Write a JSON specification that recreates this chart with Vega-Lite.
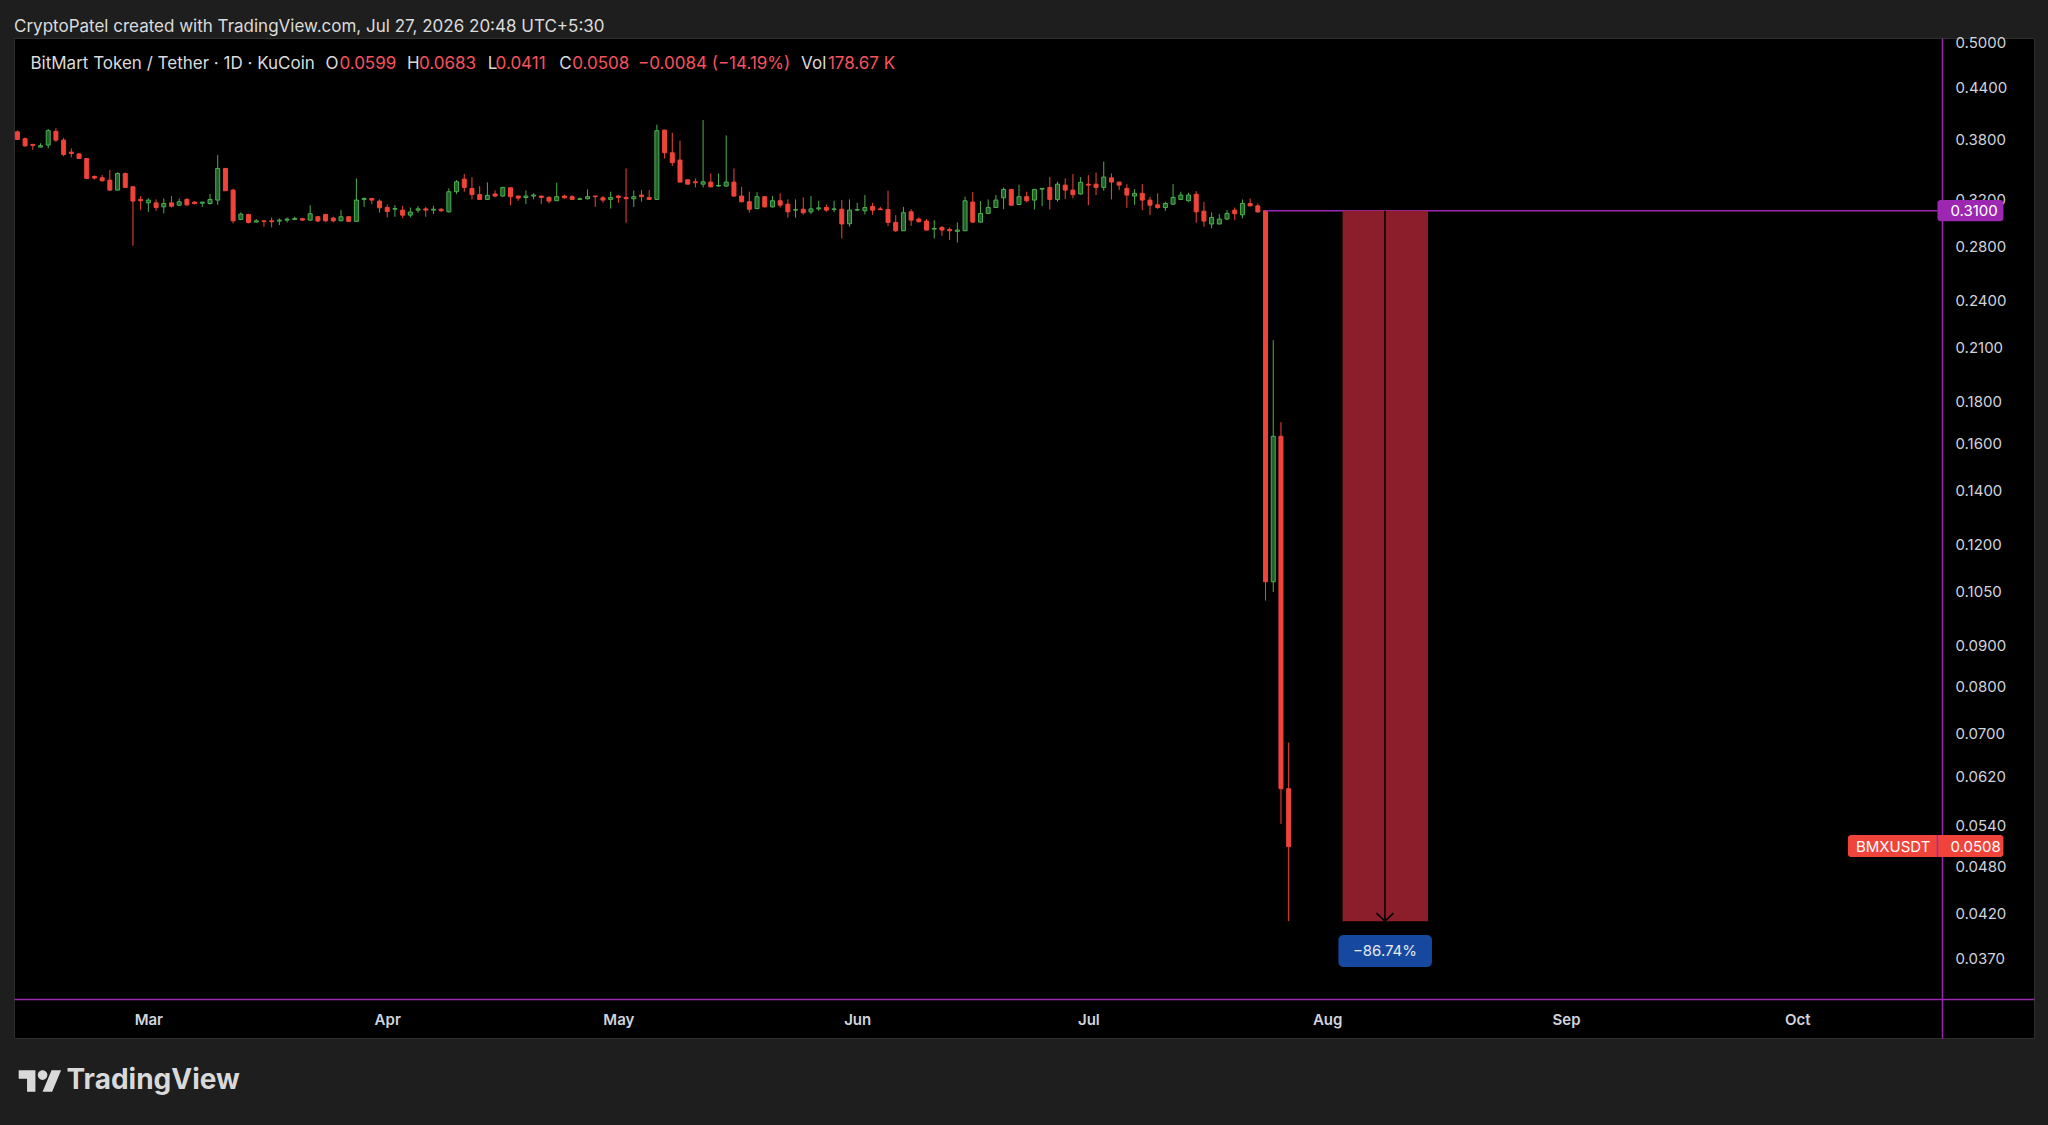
{
  "$schema": "https://vega.github.io/schema/vega-lite/v6.json",
  "width": 2020,
  "height": 1000,
  "autosize": {"type": "none"},
  "padding": {"left": 14, "top": 38, "right": 14, "bottom": 87},
  "background": "#1e1e1e",
  "view": {"fill": "#000000", "stroke": "#2e2e2e", "strokeWidth": 1},
  "title": {
    "text": "CryptoPatel created with TradingView.com, Jul 27, 2026 20:48 UTC+5:30",
    "anchor": "start",
    "frame": "group",
    "font": "Inter",
    "fontSize": 17,
    "fontWeight": "normal",
    "color": "#dbdbdb",
    "baseline": "bottom",
    "offset": 5,
    "dy": 22
  },
  "config": {
    "axis": {
      "grid": false,
      "ticks": false,
      "tickSize": 0,
      "domainColor": "#9c27b0",
      "domainWidth": 1.5,
      "labelColor": "#d1d4dc",
      "labelFont": "Inter",
      "labelFontSize": 15,
      "zindex": 0
    }
  },
  "datasets": {
    "candles": [
      {"d": "2026-02-12", "o": 0.3880, "h": 0.3895, "l": 0.3790, "c": 0.3796},
      {"d": "2026-02-13", "o": 0.3804, "h": 0.3818, "l": 0.3720, "c": 0.3727},
      {"d": "2026-02-14", "o": 0.3743, "h": 0.3748, "l": 0.3686, "c": 0.3733},
      {"d": "2026-02-15", "o": 0.3715, "h": 0.3755, "l": 0.3711, "c": 0.3729},
      {"d": "2026-02-16", "o": 0.3736, "h": 0.3912, "l": 0.3701, "c": 0.3892},
      {"d": "2026-02-17", "o": 0.3885, "h": 0.3919, "l": 0.3771, "c": 0.3789},
      {"d": "2026-02-18", "o": 0.3789, "h": 0.3815, "l": 0.3620, "c": 0.3637},
      {"d": "2026-02-19", "o": 0.3662, "h": 0.3701, "l": 0.3609, "c": 0.3647},
      {"d": "2026-02-20", "o": 0.3643, "h": 0.3654, "l": 0.3592, "c": 0.3596},
      {"d": "2026-02-21", "o": 0.3596, "h": 0.3598, "l": 0.3391, "c": 0.3398},
      {"d": "2026-02-22", "o": 0.3417, "h": 0.3427, "l": 0.3388, "c": 0.3401},
      {"d": "2026-02-23", "o": 0.3404, "h": 0.3430, "l": 0.3369, "c": 0.3375},
      {"d": "2026-02-24", "o": 0.3382, "h": 0.3480, "l": 0.3281, "c": 0.3287},
      {"d": "2026-02-25", "o": 0.3287, "h": 0.3456, "l": 0.3284, "c": 0.3446},
      {"d": "2026-02-26", "o": 0.3446, "h": 0.3456, "l": 0.3306, "c": 0.3312},
      {"d": "2026-02-27", "o": 0.3318, "h": 0.3325, "l": 0.2806, "c": 0.3186},
      {"d": "2026-02-28", "o": 0.3201, "h": 0.3232, "l": 0.3105, "c": 0.3189},
      {"d": "2026-03-01", "o": 0.3170, "h": 0.3210, "l": 0.3090, "c": 0.3195},
      {"d": "2026-03-02", "o": 0.3170, "h": 0.3201, "l": 0.3099, "c": 0.3128},
      {"d": "2026-03-03", "o": 0.3134, "h": 0.3210, "l": 0.3076, "c": 0.3164},
      {"d": "2026-03-04", "o": 0.3170, "h": 0.3232, "l": 0.3128, "c": 0.3140},
      {"d": "2026-03-05", "o": 0.3149, "h": 0.3210, "l": 0.3143, "c": 0.3180},
      {"d": "2026-03-06", "o": 0.3201, "h": 0.3213, "l": 0.3140, "c": 0.3152},
      {"d": "2026-03-07", "o": 0.3177, "h": 0.3183, "l": 0.3155, "c": 0.3164},
      {"d": "2026-03-08", "o": 0.3167, "h": 0.3177, "l": 0.3134, "c": 0.3177},
      {"d": "2026-03-09", "o": 0.3164, "h": 0.3251, "l": 0.3155, "c": 0.3201},
      {"d": "2026-03-10", "o": 0.3195, "h": 0.3631, "l": 0.3152, "c": 0.3496},
      {"d": "2026-03-11", "o": 0.3496, "h": 0.3500, "l": 0.3278, "c": 0.3281},
      {"d": "2026-03-12", "o": 0.3287, "h": 0.3300, "l": 0.2990, "c": 0.3012},
      {"d": "2026-03-13", "o": 0.3024, "h": 0.3085, "l": 0.3018, "c": 0.3070},
      {"d": "2026-03-14", "o": 0.3067, "h": 0.3073, "l": 0.2990, "c": 0.2998},
      {"d": "2026-03-15", "o": 0.3001, "h": 0.3027, "l": 0.2998, "c": 0.3012},
      {"d": "2026-03-16", "o": 0.3012, "h": 0.3014, "l": 0.2962, "c": 0.3007},
      {"d": "2026-03-17", "o": 0.3012, "h": 0.3041, "l": 0.2956, "c": 0.3004},
      {"d": "2026-03-18", "o": 0.3010, "h": 0.3033, "l": 0.2976, "c": 0.3018},
      {"d": "2026-03-19", "o": 0.3018, "h": 0.3041, "l": 0.2998, "c": 0.3027},
      {"d": "2026-03-20", "o": 0.3024, "h": 0.3047, "l": 0.3018, "c": 0.3033},
      {"d": "2026-03-21", "o": 0.3030, "h": 0.3036, "l": 0.3013, "c": 0.3018},
      {"d": "2026-03-22", "o": 0.3018, "h": 0.3149, "l": 0.3013, "c": 0.3073},
      {"d": "2026-03-23", "o": 0.3047, "h": 0.3053, "l": 0.3001, "c": 0.3010},
      {"d": "2026-03-24", "o": 0.3067, "h": 0.3073, "l": 0.3001, "c": 0.3012},
      {"d": "2026-03-25", "o": 0.3036, "h": 0.3047, "l": 0.2998, "c": 0.3012},
      {"d": "2026-03-26", "o": 0.3012, "h": 0.3105, "l": 0.3010, "c": 0.3047},
      {"d": "2026-03-27", "o": 0.3047, "h": 0.3049, "l": 0.3007, "c": 0.3007},
      {"d": "2026-03-28", "o": 0.3007, "h": 0.3398, "l": 0.3005, "c": 0.3195},
      {"d": "2026-03-29", "o": 0.3201, "h": 0.3219, "l": 0.3134, "c": 0.3210},
      {"d": "2026-03-30", "o": 0.3210, "h": 0.3212, "l": 0.3158, "c": 0.3195},
      {"d": "2026-03-31", "o": 0.3186, "h": 0.3201, "l": 0.3082, "c": 0.3125},
      {"d": "2026-04-01", "o": 0.3128, "h": 0.3155, "l": 0.3041, "c": 0.3093},
      {"d": "2026-04-02", "o": 0.3113, "h": 0.3149, "l": 0.3047, "c": 0.3119},
      {"d": "2026-04-03", "o": 0.3105, "h": 0.3143, "l": 0.3036, "c": 0.3061},
      {"d": "2026-04-04", "o": 0.3061, "h": 0.3128, "l": 0.3041, "c": 0.3088},
      {"d": "2026-04-05", "o": 0.3105, "h": 0.3140, "l": 0.3082, "c": 0.3116},
      {"d": "2026-04-06", "o": 0.3116, "h": 0.3134, "l": 0.3047, "c": 0.3105},
      {"d": "2026-04-07", "o": 0.3105, "h": 0.3143, "l": 0.3070, "c": 0.3113},
      {"d": "2026-04-08", "o": 0.3113, "h": 0.3122, "l": 0.3090, "c": 0.3099},
      {"d": "2026-04-09", "o": 0.3090, "h": 0.3303, "l": 0.3085, "c": 0.3272},
      {"d": "2026-04-10", "o": 0.3272, "h": 0.3382, "l": 0.3251, "c": 0.3366},
      {"d": "2026-04-11", "o": 0.3391, "h": 0.3440, "l": 0.3272, "c": 0.3312},
      {"d": "2026-04-12", "o": 0.3303, "h": 0.3411, "l": 0.3201, "c": 0.3245},
      {"d": "2026-04-13", "o": 0.3245, "h": 0.3325, "l": 0.3195, "c": 0.3201},
      {"d": "2026-04-14", "o": 0.3201, "h": 0.3360, "l": 0.3195, "c": 0.3238},
      {"d": "2026-04-15", "o": 0.3251, "h": 0.3284, "l": 0.3220, "c": 0.3232},
      {"d": "2026-04-16", "o": 0.3232, "h": 0.3318, "l": 0.3226, "c": 0.3312},
      {"d": "2026-04-17", "o": 0.3309, "h": 0.3312, "l": 0.3149, "c": 0.3226},
      {"d": "2026-04-18", "o": 0.3232, "h": 0.3234, "l": 0.3189, "c": 0.3213},
      {"d": "2026-04-19", "o": 0.3219, "h": 0.3284, "l": 0.3158, "c": 0.3232},
      {"d": "2026-04-20", "o": 0.3232, "h": 0.3257, "l": 0.3201, "c": 0.3241},
      {"d": "2026-04-21", "o": 0.3232, "h": 0.3234, "l": 0.3158, "c": 0.3219},
      {"d": "2026-04-22", "o": 0.3219, "h": 0.3232, "l": 0.3164, "c": 0.3186},
      {"d": "2026-04-23", "o": 0.3189, "h": 0.3357, "l": 0.3187, "c": 0.3226},
      {"d": "2026-04-24", "o": 0.3232, "h": 0.3245, "l": 0.3207, "c": 0.3216},
      {"d": "2026-04-25", "o": 0.3226, "h": 0.3241, "l": 0.3195, "c": 0.3201},
      {"d": "2026-04-26", "o": 0.3201, "h": 0.3219, "l": 0.3195, "c": 0.3207},
      {"d": "2026-04-27", "o": 0.3207, "h": 0.3293, "l": 0.3201, "c": 0.3226},
      {"d": "2026-04-28", "o": 0.3232, "h": 0.3234, "l": 0.3134, "c": 0.3226},
      {"d": "2026-04-29", "o": 0.3216, "h": 0.3232, "l": 0.3170, "c": 0.3195},
      {"d": "2026-04-30", "o": 0.3201, "h": 0.3272, "l": 0.3119, "c": 0.3219},
      {"d": "2026-05-01", "o": 0.3232, "h": 0.3241, "l": 0.3170, "c": 0.3219},
      {"d": "2026-05-02", "o": 0.3219, "h": 0.3496, "l": 0.2995, "c": 0.3207},
      {"d": "2026-05-03", "o": 0.3207, "h": 0.3284, "l": 0.3134, "c": 0.3226},
      {"d": "2026-05-04", "o": 0.3241, "h": 0.3287, "l": 0.3180, "c": 0.3226},
      {"d": "2026-05-05", "o": 0.3219, "h": 0.3287, "l": 0.3195, "c": 0.3201},
      {"d": "2026-05-06", "o": 0.3201, "h": 0.3960, "l": 0.3199, "c": 0.3892},
      {"d": "2026-05-07", "o": 0.3899, "h": 0.3901, "l": 0.3596, "c": 0.3655},
      {"d": "2026-05-08", "o": 0.3655, "h": 0.3870, "l": 0.3520, "c": 0.3554},
      {"d": "2026-05-09", "o": 0.3580, "h": 0.3782, "l": 0.3357, "c": 0.3363},
      {"d": "2026-05-10", "o": 0.3385, "h": 0.3387, "l": 0.3343, "c": 0.3343},
      {"d": "2026-05-11", "o": 0.3366, "h": 0.3398, "l": 0.3312, "c": 0.3357},
      {"d": "2026-05-12", "o": 0.3343, "h": 0.4011, "l": 0.3312, "c": 0.3366},
      {"d": "2026-05-13", "o": 0.3363, "h": 0.3446, "l": 0.3312, "c": 0.3318},
      {"d": "2026-05-14", "o": 0.3325, "h": 0.3446, "l": 0.3318, "c": 0.3331},
      {"d": "2026-05-15", "o": 0.3325, "h": 0.3840, "l": 0.3318, "c": 0.3363},
      {"d": "2026-05-16", "o": 0.3363, "h": 0.3496, "l": 0.3226, "c": 0.3232},
      {"d": "2026-05-17", "o": 0.3232, "h": 0.3318, "l": 0.3174, "c": 0.3180},
      {"d": "2026-05-18", "o": 0.3180, "h": 0.3272, "l": 0.3082, "c": 0.3113},
      {"d": "2026-05-19", "o": 0.3119, "h": 0.3268, "l": 0.3113, "c": 0.3226},
      {"d": "2026-05-20", "o": 0.3226, "h": 0.3232, "l": 0.3128, "c": 0.3134},
      {"d": "2026-05-21", "o": 0.3134, "h": 0.3232, "l": 0.3128, "c": 0.3189},
      {"d": "2026-05-22", "o": 0.3189, "h": 0.3257, "l": 0.3128, "c": 0.3149},
      {"d": "2026-05-23", "o": 0.3158, "h": 0.3201, "l": 0.3039, "c": 0.3090},
      {"d": "2026-05-24", "o": 0.3105, "h": 0.3201, "l": 0.3039, "c": 0.3110},
      {"d": "2026-05-25", "o": 0.3113, "h": 0.3219, "l": 0.3064, "c": 0.3082},
      {"d": "2026-05-26", "o": 0.3090, "h": 0.3232, "l": 0.3070, "c": 0.3116},
      {"d": "2026-05-27", "o": 0.3116, "h": 0.3189, "l": 0.3099, "c": 0.3125},
      {"d": "2026-05-28", "o": 0.3128, "h": 0.3155, "l": 0.3090, "c": 0.3105},
      {"d": "2026-05-29", "o": 0.3110, "h": 0.3189, "l": 0.3088, "c": 0.3116},
      {"d": "2026-05-30", "o": 0.3113, "h": 0.3195, "l": 0.2865, "c": 0.2985},
      {"d": "2026-05-31", "o": 0.2987, "h": 0.3201, "l": 0.2962, "c": 0.3105},
      {"d": "2026-06-01", "o": 0.3105, "h": 0.3170, "l": 0.3096, "c": 0.3110},
      {"d": "2026-06-02", "o": 0.3099, "h": 0.3241, "l": 0.3067, "c": 0.3128},
      {"d": "2026-06-03", "o": 0.3137, "h": 0.3170, "l": 0.3064, "c": 0.3105},
      {"d": "2026-06-04", "o": 0.3116, "h": 0.3134, "l": 0.3105, "c": 0.3110},
      {"d": "2026-06-05", "o": 0.3110, "h": 0.3281, "l": 0.2967, "c": 0.2998},
      {"d": "2026-06-06", "o": 0.2998, "h": 0.3061, "l": 0.2917, "c": 0.2928},
      {"d": "2026-06-07", "o": 0.2928, "h": 0.3134, "l": 0.2926, "c": 0.3082},
      {"d": "2026-06-08", "o": 0.3090, "h": 0.3113, "l": 0.2970, "c": 0.3018},
      {"d": "2026-06-09", "o": 0.3027, "h": 0.3041, "l": 0.2998, "c": 0.3004},
      {"d": "2026-06-10", "o": 0.3010, "h": 0.3027, "l": 0.2928, "c": 0.2934},
      {"d": "2026-06-11", "o": 0.2942, "h": 0.3018, "l": 0.2865, "c": 0.2948},
      {"d": "2026-06-12", "o": 0.2956, "h": 0.2967, "l": 0.2887, "c": 0.2934},
      {"d": "2026-06-13", "o": 0.2939, "h": 0.2956, "l": 0.2851, "c": 0.2928},
      {"d": "2026-06-14", "o": 0.2923, "h": 0.2998, "l": 0.2832, "c": 0.2934},
      {"d": "2026-06-15", "o": 0.2928, "h": 0.3226, "l": 0.2926, "c": 0.3189},
      {"d": "2026-06-16", "o": 0.3177, "h": 0.3268, "l": 0.2995, "c": 0.3001},
      {"d": "2026-06-17", "o": 0.3001, "h": 0.3186, "l": 0.2995, "c": 0.3076},
      {"d": "2026-06-18", "o": 0.3076, "h": 0.3201, "l": 0.3070, "c": 0.3128},
      {"d": "2026-06-19", "o": 0.3128, "h": 0.3241, "l": 0.3126, "c": 0.3195},
      {"d": "2026-06-20", "o": 0.3216, "h": 0.3312, "l": 0.3113, "c": 0.3293},
      {"d": "2026-06-21", "o": 0.3293, "h": 0.3295, "l": 0.3143, "c": 0.3149},
      {"d": "2026-06-22", "o": 0.3155, "h": 0.3337, "l": 0.3149, "c": 0.3226},
      {"d": "2026-06-23", "o": 0.3226, "h": 0.3272, "l": 0.3174, "c": 0.3189},
      {"d": "2026-06-24", "o": 0.3195, "h": 0.3295, "l": 0.3110, "c": 0.3293},
      {"d": "2026-06-25", "o": 0.3296, "h": 0.3303, "l": 0.3140, "c": 0.3303},
      {"d": "2026-06-26", "o": 0.3312, "h": 0.3411, "l": 0.3110, "c": 0.3201},
      {"d": "2026-06-27", "o": 0.3201, "h": 0.3366, "l": 0.3180, "c": 0.3343},
      {"d": "2026-06-28", "o": 0.3334, "h": 0.3398, "l": 0.3204, "c": 0.3287},
      {"d": "2026-06-29", "o": 0.3287, "h": 0.3440, "l": 0.3210, "c": 0.3245},
      {"d": "2026-06-30", "o": 0.3251, "h": 0.3411, "l": 0.3245, "c": 0.3360},
      {"d": "2026-07-01", "o": 0.3343, "h": 0.3430, "l": 0.3149, "c": 0.3334},
      {"d": "2026-07-02", "o": 0.3343, "h": 0.3456, "l": 0.3241, "c": 0.3312},
      {"d": "2026-07-03", "o": 0.3312, "h": 0.3564, "l": 0.3281, "c": 0.3411},
      {"d": "2026-07-04", "o": 0.3404, "h": 0.3446, "l": 0.3201, "c": 0.3363},
      {"d": "2026-07-05", "o": 0.3363, "h": 0.3365, "l": 0.3287, "c": 0.3334},
      {"d": "2026-07-06", "o": 0.3303, "h": 0.3343, "l": 0.3125, "c": 0.3241},
      {"d": "2026-07-07", "o": 0.3232, "h": 0.3296, "l": 0.3152, "c": 0.3257},
      {"d": "2026-07-08", "o": 0.3257, "h": 0.3343, "l": 0.3105, "c": 0.3195},
      {"d": "2026-07-09", "o": 0.3195, "h": 0.3226, "l": 0.3061, "c": 0.3149},
      {"d": "2026-07-10", "o": 0.3152, "h": 0.3257, "l": 0.3116, "c": 0.3128},
      {"d": "2026-07-11", "o": 0.3128, "h": 0.3180, "l": 0.3099, "c": 0.3164},
      {"d": "2026-07-12", "o": 0.3158, "h": 0.3343, "l": 0.3155, "c": 0.3219},
      {"d": "2026-07-13", "o": 0.3201, "h": 0.3272, "l": 0.3195, "c": 0.3241},
      {"d": "2026-07-14", "o": 0.3189, "h": 0.3262, "l": 0.3180, "c": 0.3241},
      {"d": "2026-07-15", "o": 0.3248, "h": 0.3278, "l": 0.2995, "c": 0.3090},
      {"d": "2026-07-16", "o": 0.3096, "h": 0.3177, "l": 0.2962, "c": 0.3010},
      {"d": "2026-07-17", "o": 0.2985, "h": 0.3085, "l": 0.2948, "c": 0.3041},
      {"d": "2026-07-18", "o": 0.2985, "h": 0.3070, "l": 0.2982, "c": 0.3027},
      {"d": "2026-07-19", "o": 0.3027, "h": 0.3105, "l": 0.3018, "c": 0.3076},
      {"d": "2026-07-20", "o": 0.3105, "h": 0.3128, "l": 0.3018, "c": 0.3073},
      {"d": "2026-07-21", "o": 0.3064, "h": 0.3201, "l": 0.3033, "c": 0.3164},
      {"d": "2026-07-22", "o": 0.3164, "h": 0.3210, "l": 0.3140, "c": 0.3143},
      {"d": "2026-07-23", "o": 0.3143, "h": 0.3164, "l": 0.3082, "c": 0.3090},
      {"d": "2026-07-24", "o": 0.3100, "h": 0.3105, "l": 0.1023, "c": 0.1079},
      {"d": "2026-07-25", "o": 0.1079, "h": 0.2145, "l": 0.1048, "c": 0.1632},
      {"d": "2026-07-26", "o": 0.1632, "h": 0.1699, "l": 0.0542, "c": 0.0599},
      {"d": "2026-07-27", "o": 0.0599, "h": 0.0683, "l": 0.0411, "c": 0.0508}
    ],
    "legendline": [
      {"t": "2026-02-13T16:38:00Z", "txt": "BitMart Token / Tether · 1D · KuCoin", "kind": "label"},
      {"t": "2026-03-23T23:46:00Z", "txt": "O", "kind": "label"},
      {"t": "2026-03-25T19:00:00Z", "txt": "0.0599", "kind": "value"},
      {"t": "2026-04-03T13:41:00Z", "txt": "H", "kind": "label"},
      {"t": "2026-04-05T03:07:00Z", "txt": "0.0683", "kind": "value"},
      {"t": "2026-04-14T01:00:00Z", "txt": "L", "kind": "label"},
      {"t": "2026-04-15T01:41:00Z", "txt": "0.0411", "kind": "value"},
      {"t": "2026-04-23T08:10:00Z", "txt": "C", "kind": "label"},
      {"t": "2026-04-25T00:29:00Z", "txt": "0.0508", "kind": "value"},
      {"t": "2026-05-03T13:00:00Z", "txt": "−0.0084 (−14.19%)", "kind": "value"},
      {"t": "2026-05-24T17:17:00Z", "txt": "Vol", "kind": "label"},
      {"t": "2026-05-28T04:48:00Z", "txt": "178.67 K", "kind": "value"}
    ]
  },
  "layer": [
    {
      "data": {"name": "candles"},
      "mark": {"type": "rule", "strokeWidth": 1},
      "encoding": {
        "x": {
          "field": "d", "type": "temporal", "title": null,
          "scale": {
            "type": "utc",
            "domain": [
              {"year": 2026, "month": 2, "date": 12, "hours": 5, "utc": true},
              {"year": 2026, "month": 10, "date": 31, "hours": 2, "minutes": 10, "utc": true}
            ]
          },
          "axis": {
            "orient": "bottom",
            "offset": -39,
            "format": "%b",
            "labelPadding": 13,
            "labelFontWeight": 600,
            "values": [
              {"year": 2026, "month": 3, "date": 1, "utc": true},
              {"year": 2026, "month": 4, "date": 1, "utc": true},
              {"year": 2026, "month": 5, "date": 1, "utc": true},
              {"year": 2026, "month": 6, "date": 1, "utc": true},
              {"year": 2026, "month": 7, "date": 1, "utc": true},
              {"year": 2026, "month": 8, "date": 1, "utc": true},
              {"year": 2026, "month": 9, "date": 1, "utc": true},
              {"year": 2026, "month": 10, "date": 1, "utc": true}
            ]
          }
        },
        "y": {
          "field": "l", "type": "quantitative", "title": null,
          "scale": {"type": "log", "domain": [0.02948, 0.5066], "nice": false},
          "axis": {
            "orient": "right",
            "offset": -92,
            "format": ".4f",
            "labelPadding": 13,
            "labelAlign": "left",
            "values": [0.5, 0.44, 0.38, 0.32, 0.28, 0.24, 0.21, 0.18, 0.16, 0.14, 0.12, 0.105, 0.09, 0.08, 0.07, 0.062, 0.054, 0.048, 0.042, 0.037]
          }
        },
        "y2": {"field": "h"},
        "color": {"condition": {"test": "datum.c >= datum.o", "value": "#4caf50"}, "value": "#f0443a"}
      }
    },
    {
      "data": {"name": "candles"},
      "mark": {"type": "bar", "width": 4, "strokeWidth": 1},
      "encoding": {
        "x": {"field": "d", "type": "temporal", "title": null},
        "y": {"field": "o", "type": "quantitative", "title": null},
        "y2": {"field": "c"},
        "fill": {"condition": {"test": "datum.c >= datum.o", "value": "#235f2a"}, "value": "#f0443a"},
        "stroke": {"condition": {"test": "datum.c >= datum.o", "value": "#4caf50"}, "value": "#f0443a"}
      }
    },
    {
      "data": {"values": [{"t1": "2026-07-24T00:00:00Z", "t2": "2026-10-19T05:00:00Z", "p": 0.31}]},
      "mark": {"type": "rule", "color": "#9c27b0", "strokeWidth": 1.5},
      "encoding": {
        "x": {"field": "t1", "type": "temporal", "title": null},
        "x2": {"field": "t2"},
        "y": {"field": "p", "type": "quantitative", "title": null}
      }
    },
    {
      "data": {"values": [{"t1": "2026-08-03T00:00:00Z", "t2": "2026-08-14T02:00:00Z", "top": 0.31, "bottom": 0.0411}]},
      "mark": {"type": "rect", "color": "#8b1e2a"},
      "encoding": {
        "x": {"field": "t1", "type": "temporal", "title": null},
        "x2": {"field": "t2"},
        "y": {"field": "top", "type": "quantitative", "title": null},
        "y2": {"field": "bottom"}
      }
    },
    {
      "data": {"values": [{"t": "2026-08-08T12:00:00Z", "top": 0.31, "bottom": 0.0411}]},
      "mark": {"type": "rule", "color": "#000000", "strokeWidth": 1.5},
      "encoding": {
        "x": {"field": "t", "type": "temporal", "title": null},
        "y": {"field": "top", "type": "quantitative", "title": null},
        "y2": {"field": "bottom"}
      }
    },
    {
      "data": {"values": [{"t": "2026-08-08T12:00:00Z", "p": 0.0411}]},
      "mark": {"type": "point", "shape": "M-1,-0.95L0,0L1,-0.95", "filled": false, "stroke": "#000000", "strokeWidth": 1.5, "size": 289, "opacity": 1},
      "encoding": {
        "x": {"field": "t", "type": "temporal", "title": null},
        "y": {"field": "p", "type": "quantitative", "title": null}
      }
    },
    {
      "data": {"values": [{"t1": "2026-08-02T11:00:00Z", "t2": "2026-08-14T14:24:00Z", "top": 0.0395, "bottom": 0.03607}]},
      "mark": {"type": "rect", "color": "#1648a0", "cornerRadius": 5},
      "encoding": {
        "x": {"field": "t1", "type": "temporal", "title": null},
        "x2": {"field": "t2"},
        "y": {"field": "top", "type": "quantitative", "title": null},
        "y2": {"field": "bottom"}
      }
    },
    {
      "data": {"values": [{"t": "2026-08-08T12:00:00Z", "p": 0.03775, "txt": "−86.74%"}]},
      "mark": {"type": "text", "font": "Inter", "fontSize": 15, "color": "#e8eaf0", "align": "center", "baseline": "middle"},
      "encoding": {
        "x": {"field": "t", "type": "temporal", "title": null},
        "y": {"field": "p", "type": "quantitative", "title": null},
        "text": {"field": "txt"}
      }
    },
    {
      "data": {"values": [
        {"t1": "2026-10-19T05:00:00Z", "t2": "2026-10-27T18:30:00Z", "top": 0.3195, "bottom": 0.3009, "kind": "level"},
        {"t1": "2026-10-07T14:00:00Z", "t2": "2026-10-27T18:30:00Z", "top": 0.05252, "bottom": 0.04933, "kind": "last"}
      ]},
      "mark": {"type": "rect", "cornerRadius": 3},
      "encoding": {
        "x": {"field": "t1", "type": "temporal", "title": null},
        "x2": {"field": "t2"},
        "y": {"field": "top", "type": "quantitative", "title": null},
        "y2": {"field": "bottom"},
        "fill": {"field": "kind", "type": "nominal", "scale": {"domain": ["level", "last"], "range": ["#9c27b0", "#f0443a"]}, "legend": null}
      }
    },
    {
      "data": {"values": [{"t": "2026-10-19T05:02:00Z", "top": 0.05252, "bottom": 0.04933}]},
      "mark": {"type": "rule", "color": "#9c27b0", "strokeWidth": 1.5},
      "encoding": {
        "x": {"field": "t", "type": "temporal", "title": null},
        "y": {"field": "top", "type": "quantitative", "title": null},
        "y2": {"field": "bottom"}
      }
    },
    {
      "data": {"values": [
        {"t": "2026-10-20T21:20:00Z", "p": 0.31, "txt": "0.3100"},
        {"t": "2026-10-08T15:00:00Z", "p": 0.0508, "txt": "BMXUSDT"},
        {"t": "2026-10-20T21:20:00Z", "p": 0.0508, "txt": "0.0508"}
      ]},
      "mark": {"type": "text", "font": "Inter", "fontSize": 15, "color": "#ffffff", "align": "left", "baseline": "middle"},
      "encoding": {
        "x": {"field": "t", "type": "temporal", "title": null},
        "y": {"field": "p", "type": "quantitative", "title": null},
        "text": {"field": "txt"}
      }
    },
    {
      "data": {"name": "legendline"},
      "mark": {"type": "text", "font": "Inter", "fontSize": 17, "align": "left", "baseline": "middle"},
      "encoding": {
        "x": {"field": "t", "type": "temporal", "title": null},
        "y": {"datum": 0.4704, "type": "quantitative"},
        "text": {"field": "txt"},
        "color": {"field": "kind", "type": "nominal", "scale": {"domain": ["label", "value"], "range": ["#dbdbdb", "#f7525f"]}, "legend": null}
      }
    },
    {
      "data": {"values": [{"t": "2026-02-14T23:00:00Z", "p": 0.02608}]},
      "mark": {
        "type": "point",
        "shape": "M-0.222,0.5H-0.611V-0.111H-1V-0.5H-0.222ZM0.556,0.5H0.111L0.528,-0.5H0.972ZM-0.111,-0.278A0.222,0.222,0,1,0,0.333,-0.278A0.222,0.222,0,1,0,-0.111,-0.278Z",
        "filled": true,
        "color": "#d9d9d9",
        "opacity": 1,
        "size": 1849
      },
      "encoding": {
        "x": {"field": "t", "type": "temporal", "title": null},
        "y": {"field": "p", "type": "quantitative", "title": null}
      }
    },
    {
      "data": {"values": [{"t": "2026-02-18T09:00:00Z", "p": 0.02608, "txt": "TradingView"}]},
      "mark": {"type": "text", "font": "Inter", "fontSize": 28, "fontWeight": "bold", "color": "#d9d9d9", "align": "left", "baseline": "middle"},
      "encoding": {
        "x": {"field": "t", "type": "temporal", "title": null},
        "y": {"field": "p", "type": "quantitative", "title": null},
        "text": {"field": "txt"}
      }
    }
  ]
}
